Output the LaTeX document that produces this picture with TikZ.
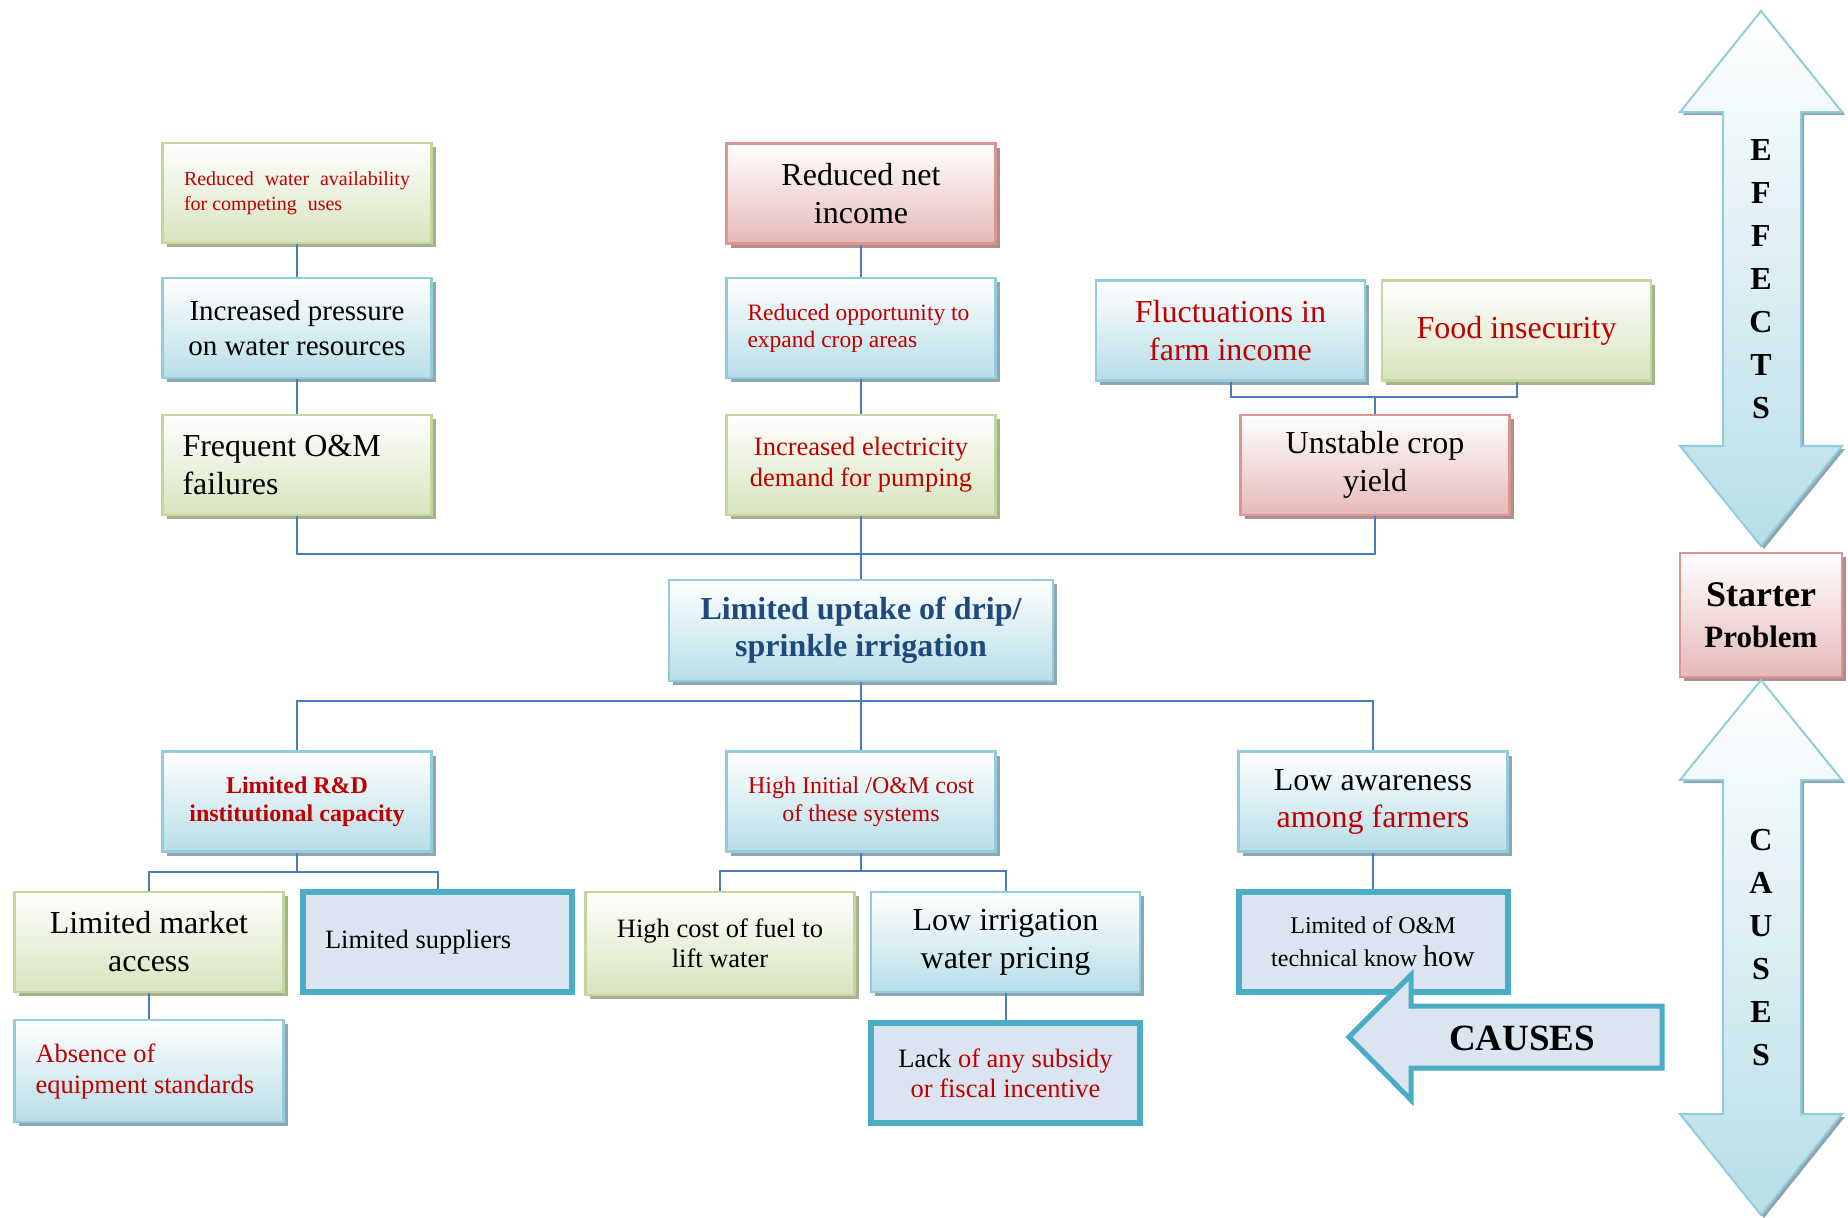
\documentclass[tikz,border=0pt]{standalone}
\usepackage{fontspec}
\setmainfont{Liberation Serif}
\usetikzlibrary{shadows}
\definecolor{redtxt}{HTML}{C00000}
\definecolor{bluetxt}{HTML}{1F497D}
\definecolor{blueln}{HTML}{93CDDD}
\definecolor{bluebot}{HTML}{B7DEE8}
\definecolor{bluesh}{HTML}{8DA6B0}
\definecolor{greenln}{HTML}{C3D69B}
\definecolor{greenbot}{HTML}{D7E4BD}
\definecolor{greensh}{HTML}{A7B28F}
\definecolor{pinkln}{HTML}{D99694}
\definecolor{pinkbot}{HTML}{E6B9B8}
\definecolor{pinksh}{HTML}{B08E8E}
\definecolor{thickfill}{HTML}{DBE5F1}
\definecolor{thickln}{HTML}{4BACC6}
\definecolor{connc}{HTML}{4A7EBB}
\newcommand\setfs[2]{\fontsize{#1}{#2}\selectfont}
\tikzset{
 basebox/.style={rectangle, inner sep=0pt, minimum width=269pt, minimum height=100pt, line width=2.5pt, align=center},
 bluebox/.style={basebox, draw=blueln, top color=white, bottom color=bluebot,
   drop shadow={shadow xshift=4pt, shadow yshift=-4pt, fill=bluesh, opacity=1}},
 greenbox/.style={basebox, draw=greenln, top color=white, bottom color=greenbot,
   drop shadow={shadow xshift=4pt, shadow yshift=-4pt, fill=greensh, opacity=1}},
 pinkbox/.style={basebox, draw=pinkln, top color=white, bottom color=pinkbot,
   drop shadow={shadow xshift=4pt, shadow yshift=-4pt, fill=pinksh, opacity=1}},
 thickbox/.style={basebox, draw=thickln, fill=thickfill, line width=6pt},
 conn/.style={draw=connc, line width=2pt},
 bigarrow/.style={draw=blueln, line width=2pt, top color=white, bottom color=bluebot,
   drop shadow={shadow xshift=3pt, shadow yshift=-3pt, fill=bluesh, opacity=1}},
 causearrow/.style={draw=thickln, fill=thickfill, line width=5pt, line join=miter},
}
\begin{document}
\begin{tikzpicture}[x=1pt,y=-1pt]
\path[use as bounding box] (0,0) rectangle (1848,1218);
\fill[white] (0,0) rectangle (1848,1218);

% effects column
\node[greenbox, text width=226pt, align=flush left, font=\setfs{20}{25}, text=redtxt] (A1) at (297,193)
  {Reduced\hfill water\hfill availability\\for competing\hspace{6pt} uses};
\node[bluebox, font=\setfs{29}{35}] (A2) at (297,328) {Increased pressure\\on water resources};
\node[greenbox, text width=229pt, align=flush left, font=\setfs{32}{38}] (A3) at (297,465) {Frequent O\&M\\failures};

\node[pinkbox, font=\setfs{32}{38}] (B1) at (861,193.5) {Reduced net\\income};
\node[bluebox, text width=227pt, align=flush left, font=\setfs{23.5}{27}, text=redtxt] (B2) at (861,328)
  {Reduced opportunity to\\expand crop areas};
\node[greenbox, font=\setfs{26.5}{31}, text=redtxt] (B3) at (861,465) {Increased electricity\\demand for pumping};

\node[bluebox, font=\setfs{32}{38}, text=redtxt] (C1) at (1230.5,330.5) {Fluctuations in\\farm income};
\node[greenbox, font=\setfs{32}{38}, text=redtxt] (C2) at (1516.5,330.5) {Food insecurity};
\node[pinkbox, font=\setfs{32}{38}] (C3) at (1375,465) {Unstable crop\\yield};

% starter problem
\node[bluebox, minimum width=384pt, minimum height=101pt, font=\setfs{32}{37}\bfseries, text=bluetxt] (ctr) at (861,630.5)
  {Limited uptake of drip/\\sprinkle irrigation};

% causes
\node[bluebox, font=\setfs{24}{28}\bfseries, text=redtxt] (D1) at (297,801.5) {Limited R\&D\\institutional capacity};
\node[bluebox, font=\setfs{24}{28}, text=redtxt] (D2) at (861,801.5) {High Initial /O\&M cost\\of these systems};
\node[bluebox, font=\setfs{32}{37}] (D3) at (1373,801.5) {Low awareness\\\textcolor{redtxt}{among farmers}};

\node[greenbox, font=\setfs{32}{38}] (E1) at (149,942) {Limited market\\access};
\node[thickbox, text width=225pt, align=flush left, font=\setfs{26.5}{31}] (E2) at (437.5,942) {Limited suppliers};
\node[greenbox, minimum height=103pt, font=\setfs{26.5}{30.5}] (E3) at (720,943.5) {High cost of fuel to\\lift water};
\node[bluebox, font=\setfs{32}{38}] (E4) at (1005.5,942) {Low irrigation\\water pricing};
\node[thickbox, font=\setfs{24}{33}] (E5) at (1373,942) {Limited of O\&M\\technical know {\setfs{30}{33}how}};

\node[bluebox, minimum height=102pt, text width=227pt, align=flush left, font=\setfs{26.5}{31}, text=redtxt] (F1) at (149,1071)
  {Absence of\\equipment standards};
\node[thickbox, font=\setfs{26.5}{30}, text=redtxt] (F2) at (1005.5,1073)
  {\textcolor{black}{Lack} of any subsidy\\or fiscal incentive};

% connectors
\draw[conn] (A1.south) -- (A2.north);
\draw[conn] (A2.south) -- (A3.north);
\draw[conn] (B1.south) -- (B2.north);
\draw[conn] (B2.south) -- (B3.north);
\coordinate (cbus) at (1375,397);
\draw[conn] (C1.south) |- (cbus) -| (C2.south);
\draw[conn] (cbus) -- (C3.north);
\coordinate (bus1) at (861,554);
\draw[conn] (A3.south) |- (bus1) -| (C3.south);
\draw[conn] (B3.south) -- (ctr.north);
\coordinate (bus2) at (861,701);
\draw[conn] (ctr.south) -- (D2.north);
\draw[conn] (D1.north) |- (bus2) -| (D3.north);
\coordinate (bus3) at (297,872);
\draw[conn] (D1.south) -- (bus3);
\draw[conn] (E1.north) |- (bus3) -| (E2.north);
\coordinate (bus4) at (861,871);
\draw[conn] (D2.south) -- (bus4);
\draw[conn] (E3.north) |- (bus4) -| (E4.north);
\draw[conn] (D3.south) -- (E5.north);
\draw[conn] (E1.south) -- (F1.north);
\draw[conn] (E4.south) -- (F2.north);

% CAUSES block arrow
\draw[causearrow] (1349,1037) -- (1411,975) -- (1411,1006) -- (1662,1006) -- (1662,1068)
  -- (1411,1068) -- (1411,1100) -- cycle;
\node[font=\setfs{37}{40}\bfseries] (causes) at (1522,1038) {CAUSES};

% right-hand double arrows
\path[bigarrow] (1761,11) -- (1842,112) -- (1801,112) -- (1801,446) -- (1842,446) -- (1761,546)
  -- (1680,446) -- (1723,446) -- (1723,112) -- (1680,112) -- cycle;
\node[align=center, inner sep=0pt, font=\setfs{32}{43}\bfseries] (eff) at (1761,279) {E\\F\\F\\E\\C\\T\\S};

\node[pinkbox, minimum width=162pt, minimum height=124pt, font=\setfs{36}{41}\bfseries] (start) at (1761,615)
  {Starter\\{\setfs{31}{41}\bfseries Problem}};

\path[bigarrow] (1761,680) -- (1842,780) -- (1801,780) -- (1801,1114) -- (1842,1114) -- (1761,1215)
  -- (1680,1114) -- (1723,1114) -- (1723,780) -- (1680,780) -- cycle;
\node[align=center, inner sep=0pt, font=\setfs{32}{43}\bfseries] (cau) at (1761,947.5) {C\\A\\U\\S\\E\\S};
\end{tikzpicture}
\end{document}
